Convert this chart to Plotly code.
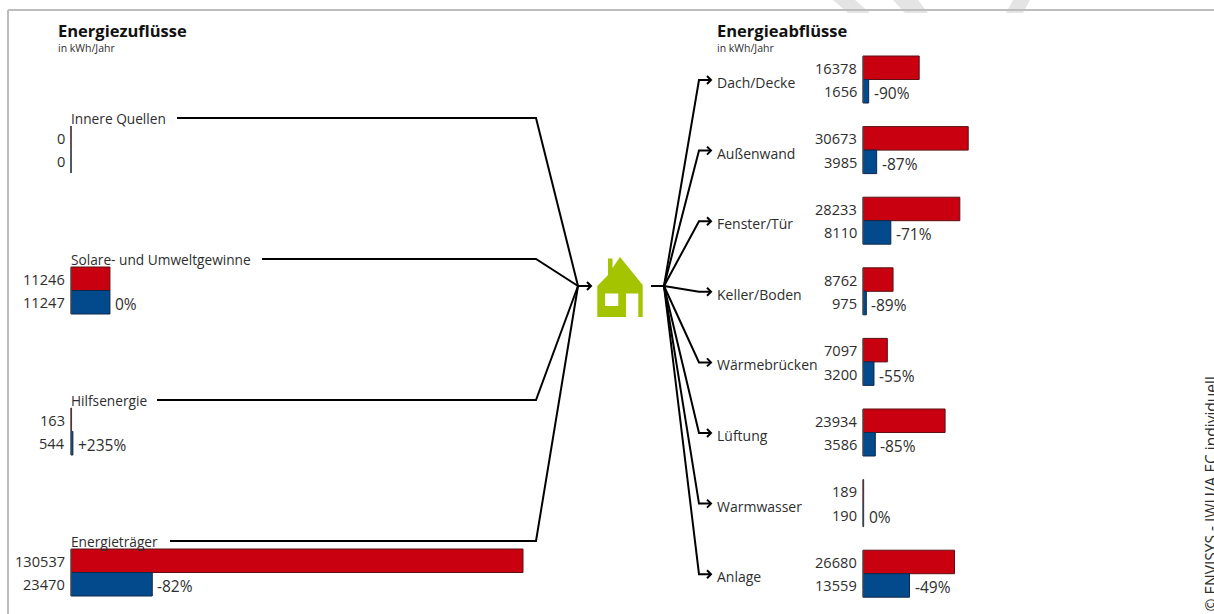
import plotly.graph_objects as go

# ---- data ----
in_labels = ["Innere Quellen", "Solare- und Umweltgewinne", "Hilfsenergie", "Energieträger"]
in_before = [0, 11246, 163, 130537]
in_after = [0, 11247, 544, 23470]
in_pct = ["", "0%", "+235%", "-82%"]

out_labels = ["Dach/Decke", "Außenwand", "Fenster/Tür", "Keller/Boden", "Wärmebrücken", "Lüftung", "Warmwasser", "Anlage"]
out_before = [16378, 30673, 28233, 8762, 7097, 23934, 189, 26680]
out_after = [1656, 3985, 8110, 975, 3200, 3586, 190, 13559]
out_pct = ["-90%", "-87%", "-71%", "-89%", "-55%", "-85%", "0%", "-49%"]

# ---- layout constants ----
W, H = 1214, 614
RED, RED_L = "#c80010", "#5a1015"
BLUE, BLUE_L = "#034a8c", "#10284a"
TXT = "#2e2e2e"
FONT = "Open Sans"
SCALE = 452 / 130537          # px per kWh, left panel
SCALE_R = 0.00343             # px per kWh, right panel
X0_L, X0_R = 71, 863
BAR_H = 23.5
NUM_SIZE = 14.6
Y_L = [126 + 141 * i for i in range(4)]
Y_R = [56 + 70.6 * i for i in range(8)]

fig = go.Figure()


def bars(vals, tops, offset, color, line, axis):
    fig.add_trace(go.Bar(
        x=vals, y=[t + offset for t in tops], orientation="h", width=BAR_H,
        marker=dict(color=color, line=dict(color=line, width=1)),
        xaxis=axis, yaxis="y", hoverinfo="skip", showlegend=False))


def lines(xs, ys, width=2, color="#000000", dash=None):
    fig.add_trace(go.Scatter(x=xs, y=ys, mode="lines", xaxis="x3", yaxis="y",
                             line=dict(color=color, width=width, dash=dash),
                             hoverinfo="skip", showlegend=False))


def head(x, y):
    lines([x - 4, x, x - 4], [y - 4, y, y + 4], width=2)


def text(x, y, s, size=14, anchor="left", weight=None, color=TXT, angle=0):
    dx = {"left": -2, "right": 2, "center": 0}[anchor]
    fig.add_annotation(x=x + dx, y=y, xref="x3", yref="y", text=f"<b>{s}</b>" if weight else s,
                       showarrow=False, xanchor=anchor, yanchor="middle", textangle=angle,
                       font=dict(family=FONT, size=size, color=color))


# bars
bars(in_before, Y_L, BAR_H / 2, RED, RED_L, "x")
bars(in_after, Y_L, BAR_H * 1.5, BLUE, BLUE_L, "x")
bars(out_before, Y_R, BAR_H / 2, RED, RED_L, "x2")
bars(out_after, Y_R, BAR_H * 1.5, BLUE, BLUE_L, "x2")

# baselines
for t in Y_L:
    lines([X0_L, X0_L], [t, t + 2 * BAR_H], width=1, color="#555555")
for t in Y_R:
    lines([X0_R, X0_R], [t, t + 2 * BAR_H], width=1, color="#555555")

# left connectors
HUB_L = (578, 286)
for i, lab in enumerate(in_labels):
    y = Y_L[i] - 8
    starts = [177, 262, 157, 170]
    lines([starts[i], 536, HUB_L[0]], [y, y, HUB_L[1]])
    text(X0_L - 0.5, y, lab, size=13.7)
    text(65, Y_L[i] + BAR_H / 2, f"{in_before[i]}", size=NUM_SIZE, anchor="right")
    text(65, Y_L[i] + BAR_H * 1.5, f"{in_after[i]}", size=NUM_SIZE, anchor="right")
    if in_pct[i]:
        text(X0_L + in_after[i] * SCALE + 5, Y_L[i] + BAR_H * 1.5 + 2, in_pct[i], size=15.5)
lines([HUB_L[0], 591], [HUB_L[1], HUB_L[1]])
head(591, HUB_L[1])

# right connectors
HUB_R = (664, 286)
lines([651, HUB_R[0]], [HUB_R[1], HUB_R[1]])
for i, lab in enumerate(out_labels):
    yc = Y_R[i] + BAR_H - 0.5
    ya = yc + 1
    lines([HUB_R[0], 699, 711], [HUB_R[1], ya, ya])
    head(711, ya)
    text(717, yc + 3.5, lab)
    text(857, Y_R[i] + BAR_H / 2, f"{out_before[i]}", size=NUM_SIZE, anchor="right")
    text(857, Y_R[i] + BAR_H * 1.5, f"{out_after[i]}", size=NUM_SIZE, anchor="right")
    text(X0_R + out_after[i] * SCALE_R + 5, Y_R[i] + BAR_H * 1.5 + 2, out_pct[i], size=15.5)

# titles
text(58, 30, "Energiezuflüsse", size=16.5, weight=True, color="#111111")
text(58, 48, "in kWh/Jahr", size=10.5)
text(717, 30, "Energieabflüsse", size=16.5, weight=True, color="#111111")
text(717, 48, "in kWh/Jahr", size=10.5)
text(1210.5, 494, "© ENVISYS - IWU/A EC individuell", size=15.5, anchor="center", angle=-90)

shapes = [
    # watermark stripes
    dict(type="path", path="M833,0 L855,0 L870,13 L848,13 Z", fillcolor="#e4e4e4", line_width=0, layer="below"),
    dict(type="path", path="M893,0 L918,0 L928,13 L905,13 Z", fillcolor="#e4e4e4", line_width=0, layer="below"),
    dict(type="path", path="M1013,0 L1030,0 L1023,13 L1006,13 Z", fillcolor="#e4e4e4", line_width=0, layer="below"),
    # frame
    dict(type="line", x0=8, x1=W, y0=10, y1=10, line=dict(color="#bdbdbd", width=2), layer="below"),
    dict(type="line", x0=8, x1=8, y0=10, y1=H, line=dict(color="#bdbdbd", width=2), layer="below"),
    # house
    dict(type="path",
         path="M597.3,317 L597.3,286 L608,275 L608,258.5 L612.5,258.5 L612.5,268 L620,257 L642.7,285 L642.7,317 "
              "L638.3,317 L638.3,293.5 L626,293.5 L626,317 Z "
              "M605,293.5 L605,306 L618.3,306 L618.3,293.5 Z",
         fillcolor="#a4c400", line_width=0, fillrule="evenodd"),
]
for s in shapes:
    s.update(xref="x3", yref="y")

axis_off = dict(visible=False, fixedrange=True)
fig.update_layout(
    width=W, height=H, margin=dict(l=0, r=0, t=0, b=0),
    paper_bgcolor="white", plot_bgcolor="white", barmode="overlay", shapes=shapes,
    xaxis=dict(range=[-X0_L / SCALE, (W - X0_L) / SCALE], **axis_off),
    xaxis2=dict(range=[-X0_R / SCALE_R, (W - X0_R) / SCALE_R], overlaying="x", **axis_off),
    xaxis3=dict(range=[0, W], overlaying="x", **axis_off),
    yaxis=dict(range=[H, 0], **axis_off),
)
fig.write_html("out.html", config=dict(displayModeBar=False),
               post_script="document.body.style.margin='0';document.body.style.overflow='hidden';")
